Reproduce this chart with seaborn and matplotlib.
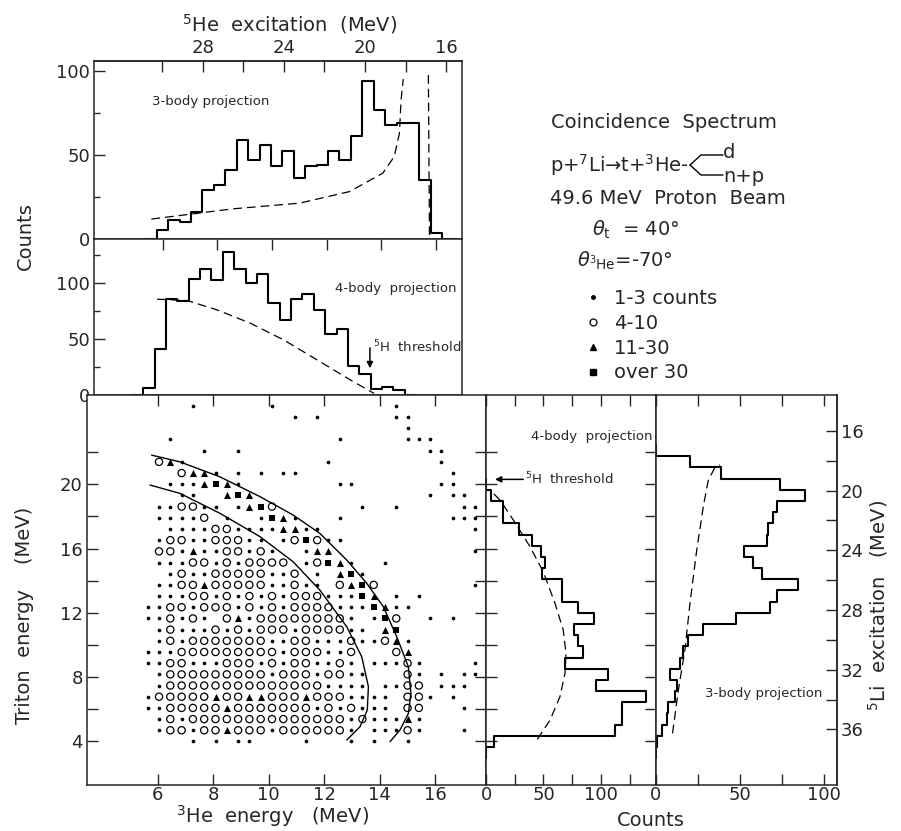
import numpy as np
import pandas as pd
import seaborn as sns
import matplotlib.pyplot as plt
from matplotlib.lines import Line2D

sns.set_style("ticks")
plt.rcParams['font.family'] = ['DejaVu Sans']
plt.rcParams['mathtext.fontset'] = 'dejavusans'
plt.rcParams['axes.linewidth'] = 1.1

## DATA
# coincidence matrix: one string per triton-energy row (top row first),
# 30 3He-energy columns in groups of 5
# '.' = 1-3 counts, 'o' = 4-10, '^' = 11-30, 's' = over 30, '-' = empty
matrix_rows = [
    "----. ----- -.--- ----- --.-- -----",
    "----- ----- ---.- .---- --..- -----",
    "----- ----- ----- ----- ---.- -----",
    "--.-- ----- ----- --.-- ---.. .----",
    "----- .--.- ----- ----- ----- ..---",
    "-o^.- ----- ----- -.--- ----- -.---",
    "---o^ ^.-.- .-..- ----- ----- --.--",
    "--... ^s^.- ----- --..- ----- -..--",
    "---.. --^s^ ----- ----- ----- .-..-",
    "-..oo ..-.^ so--- ----. --.-- ---..",
    "-.... o-.-- .s^.- --.-- ----- --...",
    "--... .oo.. ..^^. .---- ----- ----.",
    "-.oo. .ooo. .-.os o..-- ----- -----",
    "-oo.^ ..oo. o.--. ^^--- ----- ----.",
    "-...o o.o.o ooo-. os^.- -.--- -----",
    "--.o. .oooo o..o- .-^s. ----- -----",
    "-..oo ^oooo o..o. .-o^s o---- ----.",
    "-...o o.o.o .o.oo o...s ^-.-. -----",
    "..oo. ooo.o .o.oo oo... s^..- -----",
    "..o.o .-o^. ooooo ooo.- .so-- .-.--",
    "-.o.. .o.o. ooo.o ooo.. -^s-- -----",
    "-.o.o ooooo o..oo ...o. .o^.- -----",
    "...oo ooooo oo.oo o..o- --o^- -----",
    "..oo. ..ooo .o.oo ..o.- ...o. ----.",
    "-.ooo ooooo o.ooo .oo.. ---o. -.-..",
    "-.ooo ooooo ooooo o.... -..oo -...-",
    ".oooo o^oo^ ^ooo^ ooo.. ..-oo .-.--",
    "..ooo oo^oo ooooo .o.o. ..-oo ---.-",
    "-.o.o ooooo ooooo ooo.o ...^. -----",
    "-.oo. oo^oo o.ooo ooo.- ...o. ---.-",
    "----. -.-.. ----. ---.- .--.- -----",
]
he3_first, he3_step = 5.64, 0.407      # MeV, centre of first column
tri_first, tri_step = 4.0, 0.696       # MeV, centre of bottom row

# 3-body projection on 3He energy (top panel)
top_first_edge, top_bin = 5.777, 0.418
top_counts = [5, 11, 10, 16, 29, 32, 41, 59, 47, 56, 43.5, 52, 36, 43, 44,
              52.5, 47, 61, 94, 77, 68, 69, 69, 35, 3]

# 4-body projection on 3He energy (second panel)
mid_first_edge, mid_bin = 5.286, 0.416
mid_counts = [5.7, 41, 85.6, 84, 104, 113, 103, 128, 112.6, 100, 108, 82, 67,
              86, 90, 76, 54, 59, 26, 19, 5, 6.6, 4]

# projections on triton energy, one value per matrix row from the bottom
side4_counts = [7, 112, 118, 118, 139, 96, 106, 69, 84, 80, 76.5, 94, 80, 66,
                66, 49, 51, 48, 40, 29, 15, 15, 4]
side3_counts = [1, 3.5, 6.5, 7.5, 11.5, 12.5, 8.5, 14.5, 16.5, 19.4, 28.3, 48,
                68, 72, 84.5, 63, 58, 52.6, 66, 67, 70, 72, 89, 74, 39, 20.4]

# phase-space curves (dashed)
top_ps_e = [5.58, 8.56, 11.0, 12.83, 14.05, 14.47, 14.66, 14.72, 14.8]
top_ps_c = [11.6, 17.7, 21.1, 28, 39, 48.9, 62.8, 82.7, 95.2]
top_ps2_e = [15.72, 15.76]
top_ps2_c = [97.6, 0]
mid_ps_e = [5.79, 6.89, 7.99, 9.21, 10.43, 11.66, 12.88, 13.73]
mid_ps_c = [85.6, 84.4, 76, 64, 49, 31, 13, 1.2]
side4_ps_c = [44.6, 55.7, 64.3, 68.7, 69.6, 67.2, 60, 49.8, 38.3, 23.8, 12.2, 3.5]
side4_ps_t = [4.13, 5.33, 6.78, 8.24, 9.48, 10.93, 12.6, 14.56, 16.12, 17.78, 19.02, 19.65]
side3_ps_c = [10, 13.5, 17.4, 20.4, 24.4, 28.3, 31.3, 35.3, 38.3]
side3_ps_t = [4.5, 7.2, 9.7, 12.6, 15.9, 18.6, 20.27, 21.06, 21.2]

# kinematic loci drawn on the matrix
upper_e = [5.78, 6.80, 8.24, 9.69, 10.88, 11.84, 12.81, 13.53, 14.13, 14.61,
           15.03, 15.12, 15.03, 14.73, 14.37]
upper_t = [21.82, 21.4, 20.47, 19.23, 18.09, 16.95, 15.29, 13.84, 12.38, 10.52,
           8.64, 6.99, 5.74, 4.72, 3.99]
lower_e = [5.72, 6.80, 8.24, 9.69, 10.88, 11.84, 12.81, 13.35, 13.59, 13.55,
           13.29, 12.81]
lower_t = [19.96, 19.44, 18.2, 16.74, 15.18, 13.42, 11.14, 9.27, 7.41, 5.96,
           4.92, 4.09]

legend_labels = ['1-3 counts', '4-10', '11-30', 'over 30']

# matrix -> long table
pts = []
for i, row in enumerate(matrix_rows):
    k = len(matrix_rows) - 1 - i
    for j, ch in enumerate(row.replace(' ', '')):
        if ch != '-':
            pts.append((he3_first + he3_step * j, tri_first + tri_step * k, ch))
dots = pd.DataFrame(pts, columns=['he3', 'triton', 'kind'])


def ex5he(e):
    return 38.05 - 1.347 * np.asarray(e)


def he3_from_ex5he(x):
    return (38.05 - np.asarray(x)) / 1.347


def ex5li(t):
    return 41.12 - 1.077 * np.asarray(t)


def tri_from_ex5li(x):
    return (41.12 - np.asarray(x)) / 1.077


def step_hist(ax, first_edge, width, counts, vertical=False):
    vals = [0.0] + list(counts) + [0.0]
    lo = first_edge - width
    centers = lo + width * (np.arange(len(vals)) + 0.5)
    df = pd.DataFrame({'pos': centers, 'n': vals})
    key = 'y' if vertical else 'x'
    sns.histplot(data=df, weights='n', binwidth=width,
                 binrange=(lo, lo + width * len(vals)), element='step',
                 fill=False, color='black', linewidth=1.5, ax=ax,
                 **{key: 'pos'})
    ax.set(xlabel='', ylabel='')


W, H = 901, 831


def px_box(left, top, right, bottom):
    return [left / W, 1 - bottom / H, (right - left) / W, (bottom - top) / H]


fig = plt.figure(figsize=(9.01, 8.31), dpi=100)
ax_top = fig.add_axes(px_box(94, 61, 462, 238.5))
ax_mid = fig.add_axes(px_box(94, 238.5, 462, 394.7))
ax_main = fig.add_axes(px_box(87, 394.7, 486, 785))
ax_s4 = fig.add_axes(px_box(486, 394.7, 655.7, 785))
ax_s3 = fig.add_axes(px_box(655.7, 394.7, 836.7, 785))

dash = (0, (7, 4))

## TOP: 3-body projection
step_hist(ax_top, top_first_edge, top_bin, top_counts)
sns.lineplot(x=top_ps_e, y=top_ps_c, sort=False, estimator=None, color='black',
             lw=0.9, linestyle=dash, ax=ax_top)
sns.lineplot(x=top_ps2_e, y=top_ps2_c, sort=False, estimator=None, color='black',
             lw=0.9, linestyle=dash, ax=ax_top)
ax_top.text(5.6, 81.7, '3-body projection', fontsize=9.5, va='center')

## MIDDLE: 4-body projection
step_hist(ax_mid, mid_first_edge, mid_bin, mid_counts)
sns.lineplot(x=mid_ps_e, y=mid_ps_c, sort=False, estimator=None, color='black',
             lw=0.9, linestyle=dash, ax=ax_mid)
ax_mid.text(12.3, 95.5, '4-body  projection', fontsize=9.5, va='center')
ax_mid.annotate('', xy=(13.58, 23.7), xytext=(13.58, 42),
                arrowprops=dict(arrowstyle='-|>', color='black', lw=1.1,
                                mutation_scale=9, shrinkA=0, shrinkB=0))
ax_mid.text(13.7, 43, '$^5$H  threshold', fontsize=9.5, va='center')

for ax in (ax_top, ax_mid):
    ax.set_xlim(3.482, 16.95)
    ax.set_xticks(np.arange(6, 17, 2))
    ax.set_xticklabels([])
    ax.set_yticks([0, 50, 100])
    ax.set_yticklabels(['0', '50', '100'])
    ax.tick_params(which='both', direction='in', labelsize=13, pad=3, width=1)
    ax.tick_params(which='major', length=8)
    ax.tick_params(which='minor', length=4.5)
ax_top.set_ylim(0, 106)
ax_top.set_yticks([25, 75], minor=True)
ax_top.tick_params(axis='x', bottom=False)
ax_mid.set_ylim(0, 140)
ax_mid.set_yticks([25, 75, 125], minor=True)
ax_mid.tick_params(axis='x', top=True, bottom=False)

sec = ax_top.secondary_xaxis('top', functions=(ex5he, he3_from_ex5he))
sec.set_xticks(np.arange(16, 31, 2))
sec.set_xticklabels([str(v) if v % 4 == 0 else '' for v in range(16, 31, 2)])
sec.tick_params(direction='in', length=8, width=1, labelsize=13, pad=3)

## MAIN: coincidence matrix
kind_style = {
    '.': dict(marker='o', s=7, color='black', edgecolor='black', linewidth=0),
    'o': dict(marker='o', s=27, facecolors='none', edgecolor='black', linewidth=0.9),
    '^': dict(marker='^', s=26, color='black', edgecolor='black', linewidth=0),
    's': dict(marker='s', s=20, color='black', edgecolor='black', linewidth=0),
}
for kind, kw in kind_style.items():
    sub = dots[dots['kind'] == kind]
    sns.scatterplot(data=sub, x='he3', y='triton', ax=ax_main, legend=False,
                    zorder=3, **kw)
sns.lineplot(x=upper_e, y=upper_t, sort=False, estimator=None, color='black',
             lw=1.0, ax=ax_main)
sns.lineplot(x=lower_e, y=lower_t, sort=False, estimator=None, color='black',
             lw=1.0, ax=ax_main)
ax_main.set(xlabel='', ylabel='')
ax_main.set_xlim(3.453, 17.826)
ax_main.set_ylim(1.29, 25.58)
ax_main.set_xticks(np.arange(6, 17, 2))
ax_main.set_xticklabels([str(v) for v in range(6, 17, 2)])
ax_main.set_yticks(np.arange(4, 23, 2))
ax_main.set_yticklabels([str(v) if v % 4 == 0 else '' for v in range(4, 23, 2)])
ax_main.tick_params(direction='in', top=True, right=True, length=8, width=1,
                    labelsize=13, pad=3)
ax_main.tick_params(axis='x', pad=1)

## RIGHT: projections on triton energy
side_first_edge = tri_first - tri_step / 2
step_hist(ax_s4, side_first_edge, tri_step, side4_counts, vertical=True)
sns.lineplot(x=side4_ps_c, y=side4_ps_t, sort=False, estimator=None,
             color='black', lw=0.9, linestyle=dash, ax=ax_s4)
ax_s4.text(91.7, 22.96, '4-body  projection', fontsize=9.5, ha='center', va='center')
ax_s4.annotate('', xy=(7.8, 20.31), xytext=(32.4, 20.31),
               arrowprops=dict(arrowstyle='-|>', color='black', lw=1.1,
                               mutation_scale=9, shrinkA=0, shrinkB=0))
ax_s4.text(34, 20.31, '$^5$H  threshold', fontsize=9.5, va='center')

step_hist(ax_s3, side_first_edge, tri_step, side3_counts, vertical=True)
sns.lineplot(x=side3_ps_c, y=side3_ps_t, sort=False, estimator=None,
             color='black', lw=0.9, linestyle=dash, ax=ax_s3)
ax_s3.text(64.2, 7.01, '3-body projection', fontsize=9.5, ha='center', va='center')

for ax, xmax in ((ax_s4, 147.6), (ax_s3, 107.7)):
    ax.set_xlim(0, xmax)
    ax.set_ylim(1.29, 25.58)
    ticks = np.arange(0, xmax, 25)
    ax.set_xticks(ticks)
    ax.set_xticklabels([f'{v:.0f}' if v % 50 == 0 else '' for v in ticks])
    ax.tick_params(direction='in', top=True, length=8, width=1, labelsize=13, pad=1)
ax_s4.set_yticks(np.arange(4, 23, 2))
ax_s4.tick_params(axis='y', left=True, right=True, labelleft=False, direction='in',
                  length=8)
ax_s3.set_yticks([])
sec_li = ax_s3.secondary_yaxis('right', functions=(ex5li, tri_from_ex5li))
sec_li.set_yticks(np.arange(16, 37, 2))
sec_li.set_yticklabels([str(v) if v % 4 == 0 else '' for v in range(16, 37, 2)])
sec_li.tick_params(direction='in', length=8, width=1, labelsize=13, pad=3)

## free text, in figure pixels
ax_txt = fig.add_axes([0, 0, 1, 1])
ax_txt.set_xlim(0, W)
ax_txt.set_ylim(H, 0)
ax_txt.axis('off')
ax_txt.text(290, 24, '$^5$He  excitation  (MeV)', ha='center', va='center', fontsize=14)
ax_txt.text(25, 236, 'Counts', rotation=90, ha='center', va='center', fontsize=14)
ax_txt.text(25, 615, 'Triton  energy    (MeV)', rotation=90, ha='center',
            va='center', fontsize=14)
ax_txt.text(273, 816, '$^3$He  energy   (MeV)', ha='center', va='center', fontsize=14)
ax_txt.text(651, 820, 'Counts', ha='center', va='center', fontsize=14)
ax_txt.text(878, 605, '$^5$Li  excitation   (MeV)', rotation=90, ha='center',
            va='center', fontsize=14)

ax_txt.text(551, 123, 'Coincidence  Spectrum', va='center', fontsize=14)
ax_txt.text(550, 165, 'p+$^7$Li→t+$^3$He-', va='center', fontsize=14)
ax_txt.plot([690, 701, 723], [165, 155, 155], color='black', lw=1)
ax_txt.plot([690, 701, 723], [165, 175, 175], color='black', lw=1)
ax_txt.text(723, 152, 'd', va='center', fontsize=14)
ax_txt.text(723, 177, 'n+p', va='center', fontsize=14)
ax_txt.text(550, 198, '49.6 MeV  Proton  Beam', va='center', fontsize=14)
ax_txt.text(592, 230, r'$\theta_{\rm t}$  = 40°', va='center', fontsize=14)
ax_txt.text(577, 261, r'$\theta_{{}^3{\rm He}}$=-70°', va='center', fontsize=14)

handles = [
    Line2D([], [], ls='none', marker='o', ms=2.5, color='black'),
    Line2D([], [], ls='none', marker='o', ms=5, mfc='none', mec='black', mew=0.9),
    Line2D([], [], ls='none', marker='^', ms=4.5, color='black'),
    Line2D([], [], ls='none', marker='s', ms=4, color='black'),
]
fig.legend(handles, legend_labels, loc='upper left',
           bbox_to_anchor=(585 / W, 1 - 289 / H), frameon=False, fontsize=14,
           handlelength=0.8, handletextpad=0.7, labelspacing=0.3,
           borderpad=0, borderaxespad=0)

fig.savefig('out.png', dpi=100)
